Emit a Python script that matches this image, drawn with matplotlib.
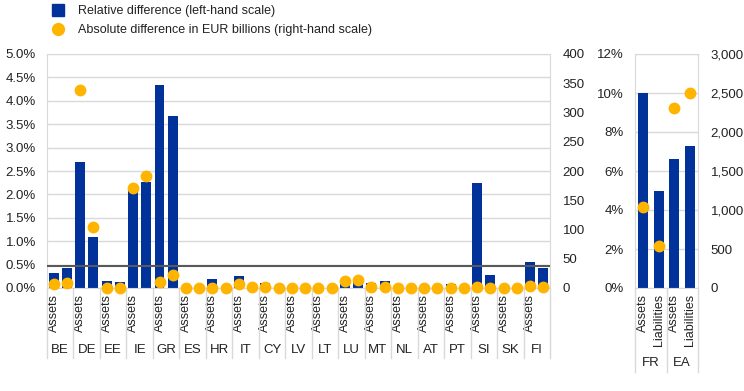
import numpy as np
import matplotlib
matplotlib.use("Agg")
import matplotlib.pyplot as plt
from matplotlib.lines import Line2D
from matplotlib.ticker import FuncFormatter
import matplotlib.transforms as mtransforms

plt.rcParams["font.family"] = ["Liberation Sans", "DejaVu Sans"]
plt.rcParams["font.size"] = 9

BLUE = "#003299"
YELLOW = "#FFB400"
GRID = "#d9d9d9"
TEXT = "#222222"

# left panel: countries, each with an assets and a liabilities bar
countries = ["BE", "DE", "EE", "IE", "GR", "ES", "HR", "IT", "CY", "LV",
             "LT", "LU", "MT", "NL", "AT", "PT", "SI", "SK", "FI"]
# relative difference (%), pairs of assets / liabilities
rel_assets = [0.31, 2.69, 0.15, 2.14, 4.34, 0.01, 0.19, 0.25, 0.10, 0.01,
              0.04, 0.09, 0.11, 0.01, 0.01, 0.08, 2.24, 0.01, 0.55]
rel_liab = [0.42, 1.09, 0.12, 2.26, 3.68, 0.00, 0.02, 0.03, 0.02, 0.00,
            0.00, 0.14, 0.16, 0.00, 0.00, 0.02, 0.27, 0.00, 0.42]
# absolute difference (EUR billions)
abs_assets = [6, 339, 0, 171, 11, 0, 0, 7, 1, 0,
              0, 12, 1, 0, 0, 0, 1, 0, 3]
abs_liab = [8, 104, 0, 191, 22, 0, 0, 1, 0, 0,
            0, 14, 1, 0, 0, 0, 0, 0, 2]
threshold = 0.47

# right panel
big_countries = ["FR", "EA"]
big_rel_assets = [10.0, 6.64]
big_rel_liab = [5.0, 7.29]
big_abs_assets = [1034, 2305]
big_abs_liab = [538, 2496]


def interleave(a, b):
    out = []
    for u, v in zip(a, b):
        out += [u, v]
    return np.array(out)


def style_axes(ax, axr):
    for sp in ax.spines.values():
        sp.set_color(GRID)
    for sp in axr.spines.values():
        sp.set_visible(False)
    ax.tick_params(axis="x", length=0, colors=TEXT, labelsize=9, pad=4)
    ax.tick_params(axis="y", length=0, colors=TEXT, labelsize=9.5, pad=8)
    axr.tick_params(axis="y", length=0, colors=TEXT, labelsize=9.5, pad=9)
    ax.yaxis.grid(True, color=GRID, linewidth=1)
    ax.set_axisbelow(True)


def group_labels(ax, names, ylab, ybot):
    trans = mtransforms.blended_transform_factory(ax.transData, ax.transAxes)
    for i, name in enumerate(names):
        ax.text(2 * i + 0.5, ylab, name, transform=trans, ha="center",
                va="center", fontsize=9.5, color=TEXT)
    for b in range(len(names) + 1):
        ax.plot([2 * b - 0.5, 2 * b - 0.5], [0, ybot], transform=trans,
                color=GRID, linewidth=1, clip_on=False)


fig = plt.figure(figsize=(7.44, 3.91), dpi=100)

# ---- left panel
ax1 = fig.add_axes([47 / 744, 103 / 391, 503 / 744, 234 / 391])
ax1r = ax1.twinx()
rel = interleave(rel_assets, rel_liab)
ab = interleave(abs_assets, abs_liab)
x = np.arange(len(rel))
ax1.bar(x, rel, width=0.75, color=BLUE, zorder=2)
ax1.axhline(threshold, color="#595959", linewidth=1.5, zorder=3)
ax1r.plot(x, ab, "o", color=YELLOW, markersize=7.5, linestyle="none",
          clip_on=False, zorder=4)
ax1.set_xlim(-0.5, len(rel) - 0.5)
ax1.set_ylim(0, 5)
ax1.set_yticks(np.arange(0, 5.01, 0.5))
ax1.yaxis.set_major_formatter(FuncFormatter(lambda v, p: f"{v:.1f}%"))
ax1r.set_ylim(0, 400)
ax1r.set_yticks(np.arange(0, 401, 50))
ax1.set_xticks(x[::2])
ax1.set_xticklabels(["Assets"] * len(countries), rotation=90, va="top")
style_axes(ax1, ax1r)
group_labels(ax1, countries, -0.265, -0.30)

# ---- right panel
ax2 = fig.add_axes([635 / 744, 103 / 391, 63 / 744, 234 / 391])
ax2r = ax2.twinx()
rel2 = interleave(big_rel_assets, big_rel_liab)
ab2 = interleave(big_abs_assets, big_abs_liab)
x2 = np.arange(len(rel2))
ax2.bar(x2, rel2, width=0.63, color=BLUE, zorder=2)
ax2r.plot(x2, ab2, "o", color=YELLOW, markersize=7.5, linestyle="none",
          clip_on=False, zorder=4)
ax2.set_xlim(-0.5, len(rel2) - 0.5)
ax2.set_ylim(0, 12)
ax2.set_yticks(np.arange(0, 12.1, 2))
ax2.yaxis.set_major_formatter(FuncFormatter(lambda v, p: f"{v:.0f}%"))
ax2r.set_ylim(0, 3000)
ax2r.set_yticks(np.arange(0, 3001, 500))
ax2r.yaxis.set_major_formatter(FuncFormatter(lambda v, p: f"{v:,.0f}"))
ax2.set_xticks(x2)
ax2.set_xticklabels(["Assets", "Liabilities"] * len(big_countries),
                    rotation=90, va="top")
style_axes(ax2, ax2r)
group_labels(ax2, big_countries, -0.32, -0.36)

# ---- legend
handles = [
    Line2D([], [], marker="s", color=BLUE, linestyle="none", markersize=8.5),
    Line2D([], [], marker="o", color=YELLOW, linestyle="none", markersize=8.5),
]
fig.legend(handles, ["Relative difference (left-hand scale)",
                     "Absolute difference in EUR billions (right-hand scale)"],
           loc="upper left", bbox_to_anchor=(40 / 744, 1.0), frameon=False,
           fontsize=9, handletextpad=0.6, labelspacing=0.6, borderaxespad=0,
           labelcolor=TEXT)

fig.savefig("out.png", dpi=100)
